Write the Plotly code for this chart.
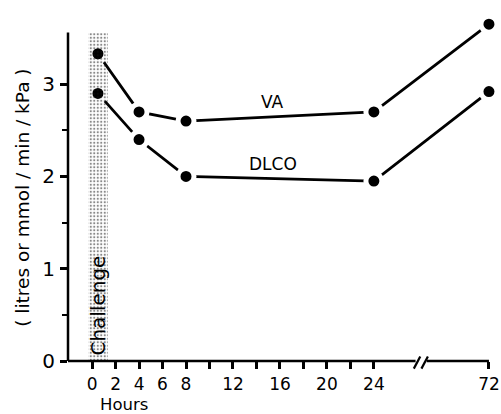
import plotly.graph_objects as go

# ---- data ----
hours = [0.5, 4, 8, 24, 72]
va = [3.33, 2.70, 2.60, 2.70, 3.65]
dlco = [2.90, 2.40, 2.00, 1.95, 2.92]

tick_hours = [0, 2, 4, 6, 8, 10, 12, 14, 16, 18, 20, 22, 24, 72]
tick_labels = ["0", "2", "4", "6", "8", "", "12", "", "16", "", "20", "", "24", "72"]
y_ticks = [0, 1, 2, 3]
y_minor_ticks = [0.5, 1.5, 2.5]
challenge_span = [-0.35, 1.35]   # hours covered by the challenge bar
y_axis_top = 3.56

# broken time axis: 0-24 h linear, then compressed after the break
X_BREAK = 24
X_END_POS = 33.8
def pos(h):
    return h if h <= X_BREAK else X_BREAK + (h - X_BREAK) * (X_END_POS - X_BREAK) / (72 - X_BREAK)

FONT = "DejaVu Sans"
X_START = -2.05
X_RANGE = [X_START, 34.4]
Y_RANGE = [0, 3.75]

fig = go.Figure()

marker = dict(size=16, color="black", line=dict(color="white", width=5))
for name, vals in [("VA", va), ("DLCO", dlco)]:
    fig.add_trace(go.Scatter(
        x=[pos(h) for h in hours], y=vals, mode="lines+markers", name=name,
        line=dict(color="black", width=2.8), marker=marker,
        cliponaxis=False, showlegend=False, xaxis="x", yaxis="y"))

# stippled challenge bar on an overlay axis so it sits above the marker halos
fig.add_trace(go.Bar(
    x=[(challenge_span[0] + challenge_span[1]) / 2], y=[y_axis_top],
    width=challenge_span[1] - challenge_span[0],
    marker=dict(color="rgba(0,0,0,0)", line=dict(width=0),
                pattern=dict(shape=".", fgcolor="#111", size=3.5, solidity=0.3)),
    xaxis="x2", yaxis="y2", showlegend=False, hoverinfo="skip"))

fig.update_layout(
    width=501, height=414,
    margin=dict(l=68, r=1, t=15, b=53),
    paper_bgcolor="white", plot_bgcolor="white",
    font=dict(family=FONT, color="black"),
    xaxis=dict(range=X_RANGE, showgrid=False, zeroline=False, showline=False,
               ticks="outside", ticklen=7, tickwidth=2.5, tickcolor="black",
               tickvals=[pos(h) for h in tick_hours], ticktext=tick_labels,
               tickfont=dict(size=17, family=FONT), ticklabelstandoff=1,
               ticklabeloverflow="allow"),
    yaxis=dict(range=Y_RANGE, showgrid=False, zeroline=False, showline=False,
               ticks="outside", ticklen=7, tickwidth=2.5, tickcolor="black",
               tickvals=y_ticks, tickfont=dict(size=20, family=FONT), ticklabelstandoff=1,
               ticklabeloverflow="allow",
               minor=dict(ticks="outside", tickvals=y_minor_ticks, ticklen=5,
                          tickwidth=2, tickcolor="black")),
    xaxis2=dict(range=X_RANGE, overlaying="x", visible=False),
    yaxis2=dict(range=Y_RANGE, overlaying="y", visible=False),
    bargap=0,
)

# axis lines (y axis stops at its top, x axis stops at 72 h)
fig.add_shape(type="line", xref="paper", yref="y", x0=0, x1=0, y0=0, y1=y_axis_top,
              line=dict(color="black", width=2.5), layer="above")
fig.add_shape(type="line", xref="x", yref="paper", x0=X_START, x1=X_END_POS, y0=0, y1=0,
              line=dict(color="black", width=2.5), layer="above")

# axis break marks
fig.add_shape(type="rect", xref="x", yref="paper", x0=27.55, x1=28.5, y0=-0.015, y1=0.015,
              fillcolor="white", line=dict(width=0), layer="above")
for x0 in [27.4, 28.05]:
    fig.add_shape(type="line", xref="x", yref="paper", x0=x0, x1=x0 + 0.55, y0=-0.022, y1=0.013,
                  line=dict(color="black", width=2.2), layer="above")

# labels
fig.add_annotation(x=pos(15.4), y=2.81, text="VA", showarrow=False, font=dict(size=17))
fig.add_annotation(x=pos(15.4), y=2.13, text="DLCO", showarrow=False, font=dict(size=17))
fig.add_annotation(x=0.5, y=0.6, text="Challenge", textangle=-90, showarrow=False,
                   xanchor="center", yanchor="middle", font=dict(size=20))
fig.add_annotation(xref="x", yref="paper", x=2.7, y=-0.127, text="Hours", showarrow=False,
                   xanchor="center", yanchor="middle", font=dict(size=16.5))
fig.add_annotation(xref="paper", yref="paper", x=-0.108, y=0.471,
                   text="( litres or mmol / min / kPa )", textangle=-90, showarrow=False,
                   xanchor="center", yanchor="middle", font=dict(size=18.5))

fig.write_html("out.html", post_script="document.body.style.margin='0px';",
               config={"displayModeBar": False})
